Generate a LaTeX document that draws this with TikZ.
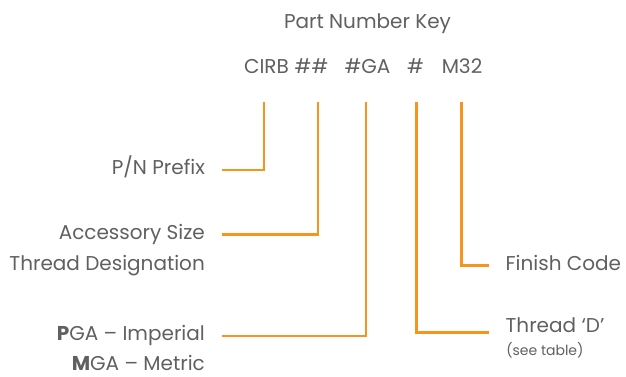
\documentclass[tikz,border=0pt]{standalone}
\usepackage{fontspec}
\setmainfont{Poppins}
\usepackage{xcolor}
\usepackage{tikz}
\definecolor{keyorange}{HTML}{F7941D}
\definecolor{keygray}{HTML}{606062}

\begin{document}
\begin{tikzpicture}[
  x=0.75pt, y=-0.75pt,
  every node/.style={font=\fontsize{15}{18}\selectfont, text=keygray},
  code/.style={anchor=base, inner sep=0pt},
  leftlabel/.style={anchor=east, inner sep=0pt, outer xsep=12.5pt,
    text height=0.7em, text depth=0pt},
  rightlabel/.style={anchor=west, inner sep=0pt, outer xsep=12.5pt,
    text height=0.7em, text depth=0pt},
  note/.style={anchor=base west, inner sep=0pt, font=\fontsize{10.5}{12}\selectfont},
  line/.style={draw, keyorange, line width=1.6pt}
]
  \useasboundingbox (0,0) rectangle (626,376);

  % heading and the code itself
  \node [code] (title) at (367.5,28) {Part Number Key};
  \node [code] (cirb) at (266.5,73) {CIRB};
  \node [code] (size) at (311.5,73) {\#\#};
  \node [code] (ga) at (367.5,73) {\#GA};
  \node [code] (thread) at (415.6,73) {\#};
  \node [code] (fin) at (462,73) {M32};

  % where the leaders start
  \coordinate (t1) at (264,102);
  \coordinate (t2) at (318.3,102);
  \coordinate (t3) at (366,102);
  \coordinate (t4) at (416.5,102);
  \coordinate (t5) at (461.5,102);

  % labels
  \node [leftlabel] (prefix) at (221.5,170) {P/N Prefix};
  \node [leftlabel] (accsize) at (221.5,234.5) {Accessory Size};
  \node [leftlabel] (designation) at (221.5,266) {Thread Designation};
  \node [leftlabel] (imperial) at (221.5,336) {\textbf{P}GA – Imperial};
  \node [leftlabel] (metric) at (221.5,366) {\textbf{M}GA – Metric};
  \node [rightlabel] (finish) at (489,265.5) {Finish Code};
  \node [rightlabel] (threadd) at (489,327.5) {Thread ‘D’};
  \node [note] (seetable) at (506,355) {(see table)};

  \path [line] (t1) |- (prefix);
  \path [line] (t2) |- (accsize);
  \path [line] (t3) |- (imperial);
  \path [line] (t4) |- (threadd.south west);
  \path [line] (t5) |- (finish);

\end{tikzpicture}
\end{document}
